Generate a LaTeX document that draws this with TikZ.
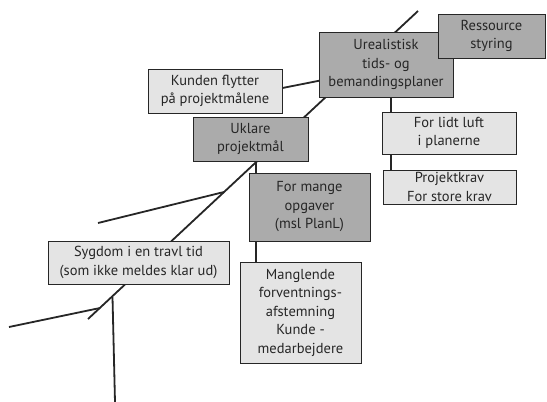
\documentclass[tikz,border=0pt]{standalone}
\usepackage{fontspec}
\setmainfont{PT Sans}
\usetikzlibrary{backgrounds}
\definecolor{darkbox}{HTML}{ABABAB}
\definecolor{lightbox}{HTML}{E4E4E4}
\definecolor{ink}{HTML}{262626}
\begin{document}
\begin{tikzpicture}[x=1pt,y=-1pt,
  box/.style={rectangle,draw=ink,line width=1pt,inner sep=0pt,align=center,text=ink,
    font=\fontsize{14.5}{18.5}\selectfont},
  dbox/.style={box,fill=darkbox},
  lbox/.style={box,fill=lightbox},
  bone/.style={draw=ink,line width=1.8pt}]
\useasboundingbox (0,0) rectangle (547,402);
% nodes
\node[dbox,minimum width=134pt,minimum height=65pt] (ures) at (386,64.5) {Urealistisk\\tids- og\\bemandingsplaner};
\node[dbox,minimum width=107pt,minimum height=44pt] (ress) at (491.5,36) {Ressource\\styring};
\node[lbox,minimum width=134pt,minimum height=44pt] (kunden) at (215,91) {Kunden flytter\\på projektmålene};
\node[dbox,minimum width=115pt,minimum height=44pt] (uklare) at (250.5,139) {Uklare\\projektmål};
\node[dbox,minimum width=121pt,minimum height=68pt] (mange) at (309.5,207) {For mange\\opgaver\\(msl PlanL)};
\node[lbox,minimum width=121pt,minimum height=101pt] (mangl) at (300.5,312.5) {Manglende\\forventnings-\\afstemning\\Kunde -\\medarbejdere};
\node[lbox,minimum width=181pt,minimum height=43pt] (sygdom) at (138.5,262.5) {Sygdom i en travl tid\\(som ikke meldes klar ud)};
\node[lbox,minimum width=134pt,minimum height=42pt] (luft) at (449,133) {For lidt luft\\i planerne};
\node[lbox,minimum width=133pt,minimum height=34pt] (krav) at (449.5,187) {Projektkrav\\For store krav};
% coordinates
\coordinate (top) at (418,11);
\coordinate (bot) at (88,319);
\coordinate (jk) at (350,74.6);
\coordinate (ja) at (224,192);
\coordinate (ea) at (98,223);
\coordinate (jb) at (100,308);
\coordinate (eb) at (9,327);
\coordinate (jc) at (112.5,297);
\coordinate (ec) at (115,402);
\coordinate (jd) at (256,162);
\coordinate (je) at (391,36);
\begin{scope}[on background layer]
\draw[bone] (top) -- (bot);
\draw[bone] ([yshift=3pt]kunden.east) -- (jk);
\draw[bone] (ja) -- (ea);
\draw[bone] (jb) -- (eb);
\draw[bone] (jc) -- (ec);
\draw[bone] (jd) -- (jd |- mangl.north);
\draw[bone] (je) -- (je |- krav.north);
\end{scope}
\end{tikzpicture}
\end{document}
